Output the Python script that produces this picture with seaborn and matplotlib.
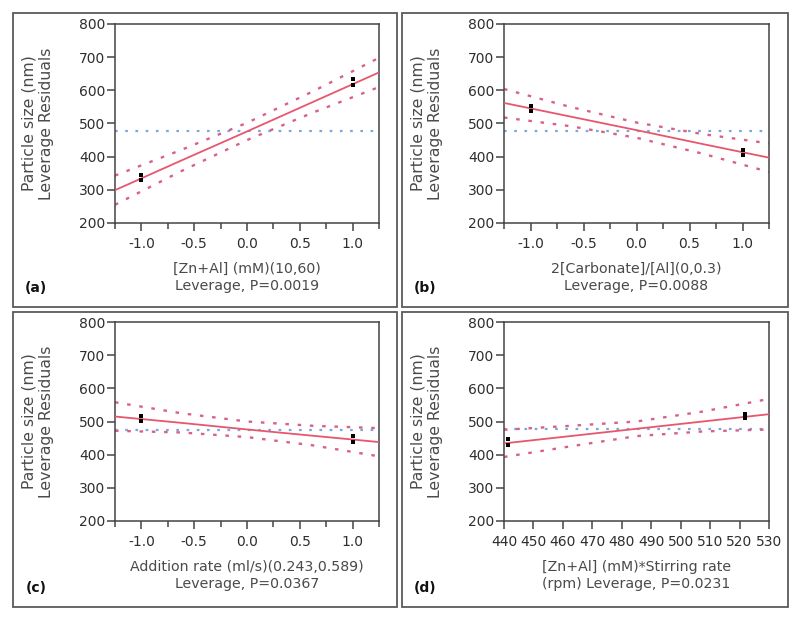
import numpy as np
import pandas as pd
import matplotlib
matplotlib.use("Agg")
import matplotlib.pyplot as plt
import seaborn as sns
from matplotlib.patches import Rectangle
from matplotlib.ticker import MultipleLocator

sns.set_theme(style="white")
plt.rcParams['font.family'] = ['DejaVu Sans']

# ---------------- data ----------------
coded_x = [-1.25, -0.625, 0.0, 0.625, 1.25]
stir_x = [440, 462.5, 485, 507.5, 530]

a_fit = [299, 388, 476, 565, 654]
a_upper = [343, 420, 502, 597, 698]
a_lower = [255, 356, 450, 533, 610]
a_pts_x = [-1, -1, 1, 1]
a_pts_y = [329, 344, 616, 633]
a_mean = 478

b_fit = [562, 521, 480, 438, 397]
b_upper = [604, 550, 503, 468, 440]
b_lower = [518, 492, 457, 409, 354]
b_pts_x = [-1, -1, 1, 1]
b_pts_y = [538, 554, 405, 421]
b_mean = 478

c_fit = [515, 496, 476, 457, 438]
c_upper = [558, 525, 500, 487, 480]
c_lower = [472, 467, 453, 428, 395]
c_pts_x = [-1, -1, 1, 1]
c_pts_y = [502, 517, 439, 455]
c_mean = 474

d_fit = [434, 456, 478, 500, 522]
d_upper = [475, 487, 500, 530, 568]
d_lower = [393, 425, 456, 470, 476]
d_pts_x = [441.2, 441.2, 521.9, 521.9]
d_pts_y = [430, 448, 512, 524]
d_mean = 477

coded_ticks = [-1.0, -0.5, 0.0, 0.5, 1.0]
coded_ticklabels = ["-1.0", "-0.5", "0.0", "0.5", "1.0"]
stir_ticks = [440, 450, 460, 470, 480, 490, 500, 510, 520, 530]
y_ticks = [200, 300, 400, 500, 600, 700, 800]

xlabels = ["[Zn+Al] (mM)(10,60)\nLeverage, P=0.0019",
           "2[Carbonate]/[Al](0,0.3)\nLeverage, P=0.0088",
           "Addition rate (ml/s)(0.243,0.589)\nLeverage, P=0.0367",
           "[Zn+Al] (mM)*Stirring rate\n(rpm) Leverage, P=0.0231"]
letters = ["(a)", "(b)", "(c)", "(d)"]
ylabel = "Particle size (nm)\nLeverage Residuals"

# ---------------- layout ----------------
W, H = 800, 620
fig = plt.figure(figsize=(8, 6.2), dpi=100)
fig.patch.set_facecolor("white")

def fx(x):
    return x / W

def fy(y):
    return 1 - y / H

# axes boxes in pixel coordinates: left, right, top, bottom
ax_boxes = [(115, 379, 24, 223), (504, 769, 24, 223),
            (115, 379, 322, 521), (504, 769, 322, 521)]
panel_boxes = [(13, 397, 13, 307), (402, 788, 13, 307),
               (13, 397, 312, 607), (402, 788, 312, 607)]

panels = [
    (coded_x, a_fit, a_upper, a_lower, a_pts_x, a_pts_y, a_mean),
    (coded_x, b_fit, b_upper, b_lower, b_pts_x, b_pts_y, b_mean),
    (coded_x, c_fit, c_upper, c_lower, c_pts_x, c_pts_y, c_mean),
    (stir_x, d_fit, d_upper, d_lower, d_pts_x, d_pts_y, d_mean),
]

fit_col = "#e8566e"
ci_col = "#d8608a"
mean_col = "#7aa8d8"
text_col = "#4a4a4a"
tick_col = "#2e2e2e"
spine_col = "#444444"

for i, (xs, fit, up, lo, px, py, mean) in enumerate(panels):
    l, r, t, b = ax_boxes[i]
    ax = fig.add_axes([fx(l), fy(b), (r - l) / W, (b - t) / H])
    ax.set_facecolor("white")

    ax.axhline(mean, color=mean_col, lw=1.6, linestyle=(0, (1.2, 3.4)), zorder=1)
    sns.lineplot(x=xs, y=up, ax=ax, color=ci_col, lw=1.7,
                 linestyle=(0, (1.5, 3.7)), zorder=2)
    sns.lineplot(x=xs, y=lo, ax=ax, color=ci_col, lw=1.7,
                 linestyle=(0, (1.5, 3.7)), zorder=2)
    sns.lineplot(x=xs, y=fit, ax=ax, color=fit_col, lw=1.3, zorder=3)
    sns.scatterplot(x=px, y=py, ax=ax, color="black", s=7, marker="s",
                    linewidth=0, zorder=4)

    ax.set_xlim(xs[0], xs[-1])
    ax.set_ylim(200, 800)
    ax.set_yticks(y_ticks)
    if i < 3:
        ax.set_xticks(coded_ticks)
        ax.set_xticklabels(coded_ticklabels)
        ax.xaxis.set_minor_locator(MultipleLocator(0.25))
    else:
        ax.set_xticks(stir_ticks)
    for s in ax.spines.values():
        s.set_color(spine_col)
        s.set_linewidth(1.1)
    ax.tick_params(axis="both", which="major", direction="out", length=5.5,
                   width=1.1, color=spine_col, labelsize=10,
                   labelcolor=tick_col, bottom=True, left=True)
    ax.tick_params(axis="x", which="minor", direction="out", length=4,
                   width=1.1, color=spine_col, bottom=True)
    ax.tick_params(axis="x", which="major", pad=4.5)
    ax.tick_params(axis="y", which="major", pad=1.5)
    ax.set_xlabel("")
    ax.set_ylabel("")

    # panel frame
    pl, pr, pt, pb = panel_boxes[i]
    fig.add_artist(Rectangle((fx(pl), fy(pb)), (pr - pl) / W, (pb - pt) / H,
                             transform=fig.transFigure, fill=False,
                             edgecolor="#5a5a5a", lw=1.3))

    # texts
    cx = (l + r) / 2
    fig.text(fx(cx), fy(b + 39), xlabels[i], ha="center", va="top",
             fontsize=10.2, color=text_col, linespacing=1.3)
    fig.text(fx(pl + 23), fy(pb - 19), letters[i],
             ha="center", va="center", fontsize=10, fontweight="bold",
             color="#111111")
    fig.text(fx(pl + 25), fy((t + b) / 2), ylabel, rotation=90,
             ha="center", va="center", fontsize=11.3, color=text_col,
             linespacing=1.2, multialignment="center")

fig.savefig("out.png", dpi=100, facecolor="white")
